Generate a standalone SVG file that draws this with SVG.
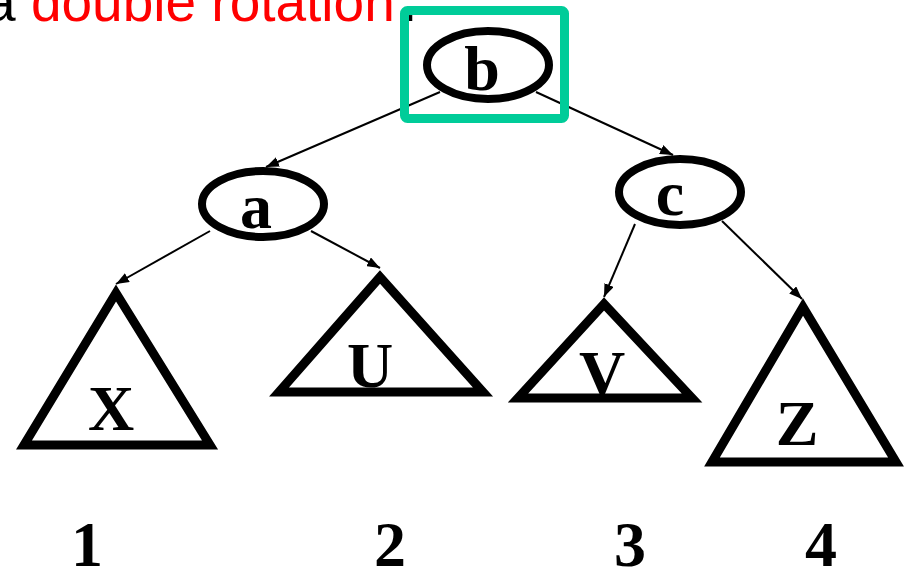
<svg xmlns="http://www.w3.org/2000/svg" width="906" height="569" viewBox="0 0 906 569">
<defs>
<marker id="arr" markerUnits="userSpaceOnUse" markerWidth="14" markerHeight="10" refX="13" refY="5" orient="auto">
<path d="M0,0 L13,5 L0,10 z" fill="#000"/>
</marker>
<style>
.node{fill:#fff;stroke:#000;stroke-width:8}
.tri{fill:none;stroke:#000;stroke-width:9;stroke-linejoin:miter}
.lbl{font-family:"Liberation Serif","Times New Roman",serif;font-weight:bold;font-size:64px;text-anchor:middle;fill:#000}
.edge{stroke:#000;stroke-width:2;fill:none;marker-end:url(#arr)}
.title{font-family:"Liberation Sans",Arial,sans-serif;font-size:55px}
</style>
</defs>
<rect width="906" height="569" fill="#fff"/>
<text class="title" x="-15" y="21"><tspan fill="#000">a </tspan><tspan fill="#ff0000">double rotation</tspan><tspan fill="#000" x="402">.</tspan></text>
<g id="connectors">
<line class="edge" x1="440" y1="92" x2="266" y2="167"/>
<line class="edge" x1="536" y1="92" x2="673" y2="155"/>
<line class="edge" x1="210" y1="231" x2="116" y2="284"/>
<line class="edge" x1="311" y1="231" x2="380" y2="268"/>
<line class="edge" x1="635" y1="224" x2="604" y2="297"/>
<line class="edge" x1="722" y1="221" x2="802" y2="299"/>
</g>
<g id="node-b">
<ellipse class="node" cx="488" cy="65" rx="61" ry="34"/>
<text class="lbl" x="482" y="90">b</text>
</g>
<g id="highlight">
<rect x="404.5" y="10.5" width="160" height="108" rx="3" fill="none" stroke="#00cc99" stroke-width="9"/>
</g>
<g id="node-a">
<ellipse class="node" cx="263" cy="204" rx="61" ry="33"/>
<text class="lbl" x="256" y="228">a</text>
</g>
<g id="node-c">
<ellipse class="node" cx="680" cy="192" rx="61" ry="33"/>
<text class="lbl" x="670" y="215">c</text>
</g>
<g id="tree-X">
<polygon class="tri" points="116,293 24,445 210,445"/>
<text class="lbl" x="111" y="430">X</text>
</g>
<g id="tree-U">
<polygon class="tri" points="380,277 279,392 483,392"/>
<text class="lbl" x="370" y="387">U</text>
</g>
<g id="tree-V">
<polygon class="tri" points="604,304 518,398 692,398"/>
<text class="lbl" x="602" y="395">V</text>
</g>
<g id="tree-Z">
<polygon class="tri" points="803,307 712,462 896,462"/>
<text class="lbl" x="797" y="445">Z</text>
</g>
<g id="numbers">
<text class="lbl" x="87" y="566">1</text>
<text class="lbl" x="390" y="566">2</text>
<text class="lbl" x="630" y="566">3</text>
<text class="lbl" x="821" y="566">4</text>
</g>
</svg>
